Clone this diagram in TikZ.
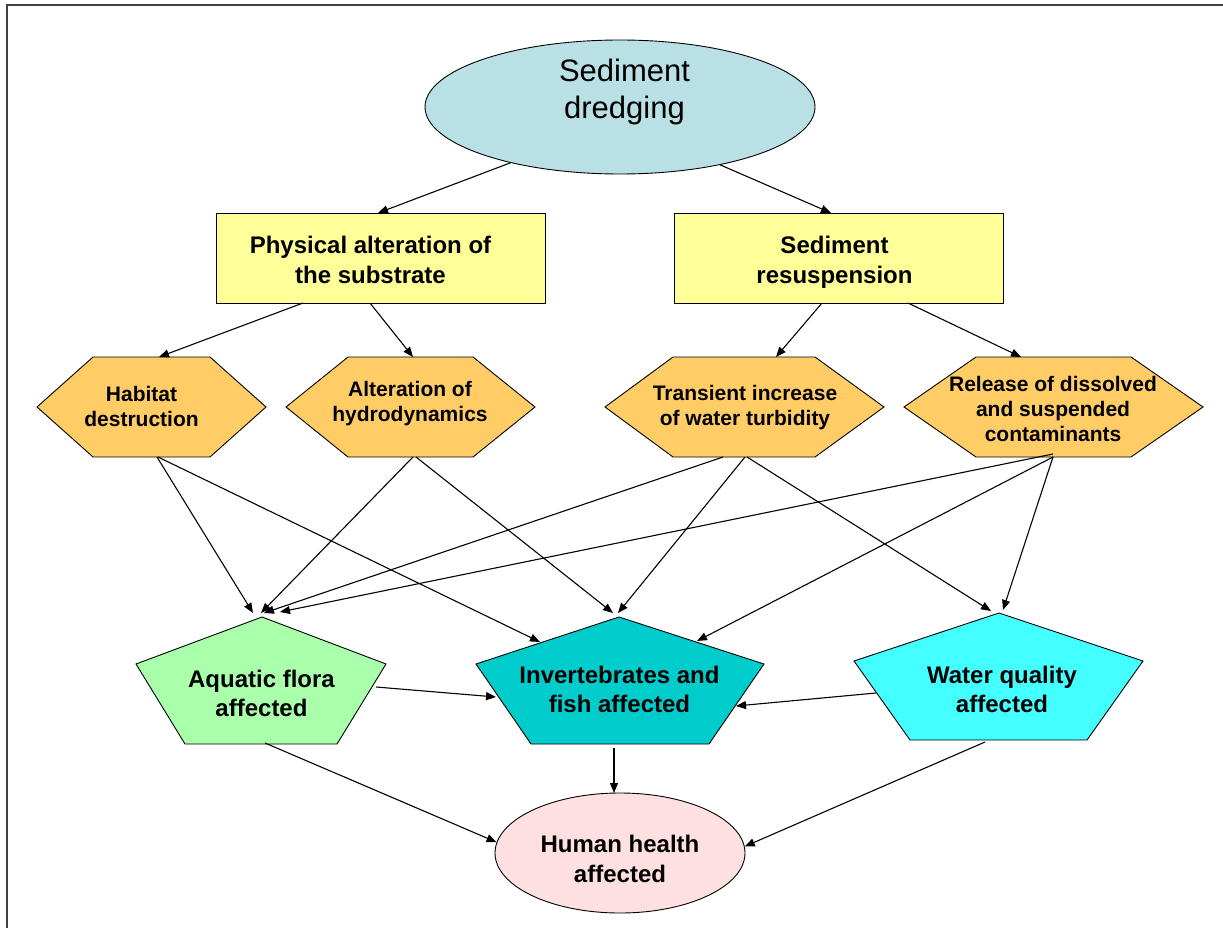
\documentclass[tikz,border=0pt]{standalone}
\usepackage{fontspec}
\setmainfont{Liberation Sans}
\usetikzlibrary{shapes.geometric,arrows.meta}
\definecolor{dredgeblue}{RGB}{185,224,228}
\definecolor{boxyellow}{RGB}{255,255,153}
\definecolor{hexorange}{RGB}{255,204,102}
\definecolor{floragreen}{RGB}{170,255,170}
\definecolor{fishteal}{RGB}{0,204,204}
\definecolor{watercyan}{RGB}{68,255,255}
\definecolor{healthpink}{RGB}{255,224,224}
\begin{document}
\begin{tikzpicture}[x=1pt,y=-1pt,
  shapeline/.style={draw=black,line width=0.9pt},
  conn/.style={draw=black,line width=1.1pt,-{Triangle[length=10pt,width=8pt]}},
  titletext/.style={font=\fontsize{31}{37}\selectfont,align=center,inner sep=0pt},
  boxtext/.style={font=\bfseries\fontsize{24}{30}\selectfont,align=center,inner sep=0pt},
  hextext/.style={font=\bfseries\fontsize{21}{25}\selectfont,align=center,inner sep=0pt},
  penttext/.style={font=\bfseries\fontsize{24}{29}\selectfont,align=center,inner sep=0pt},
  ellnode/.style={ellipse,shapeline,inner sep=0pt},
  boxnode/.style={rectangle,shapeline,fill=boxyellow,minimum width=329pt,minimum height=90pt,inner sep=0pt},
  hexshape/.style={shapeline,fill=hexorange},
]
\useasboundingbox (0,0) rectangle (1223,928);
\fill[white] (0,0) rectangle (1223,928);
\draw[line width=2pt,black!75] (7,928) -- (7,5) -- (1223,5);

% top ellipse
\node[ellnode,fill=dredgeblue,minimum width=390pt,minimum height=134pt] (sd) at (620,107) {};
\node[titletext] (sdt) at (624.5,92) {Sediment\\dredging};

% boxes
\node[boxnode] (pa) at (380.5,258) {};
\node[boxtext] (pat) at (370.5,260) {Physical alteration of\\the substrate};
\node[boxnode] (sr) at (839,258) {};
\node[boxtext] (srt) at (834.5,262.5) {Sediment\\resuspension};

% hexagons
\draw[hexshape] (37,407) -- (93,357) -- (210,357) -- (266,407) -- (210,457) -- (93,457) -- cycle;
\node[hextext] (hab) at (141.5,406) {Habitat\\destruction};
\draw[hexshape] (286,407) -- (348,357) -- (473,357) -- (535,407) -- (473,457) -- (348,457) -- cycle;
\node[hextext] (alt) at (410,403.5) {Alteration of\\hydrodynamics};
\draw[hexshape] (605,407) -- (673,357) -- (815,357) -- (884,407) -- (815,457) -- (673,457) -- cycle;
\node[hextext] (tra) at (745,408) {Transient increase\\of water turbidity};
\draw[hexshape] (904,407) -- (976,357) -- (1131,357) -- (1203,407) -- (1131,457) -- (976,457) -- cycle;
\node[hextext] (rel) at (1053,409) {Release of dissolved\\and suspended\\contaminants};

% pentagons
\draw[shapeline,fill=floragreen] (262,617) -- (386,664) -- (337,744) -- (185,744) -- (136,664) -- cycle;
\node[penttext] (afl) at (261.5,693.5) {Aquatic flora\\affected};
\draw[shapeline,fill=fishteal] (619,617) -- (764,664) -- (709,744) -- (531,744) -- (476,664) -- cycle;
\node[penttext] (inv) at (619.5,689.5) {Invertebrates and\\fish affected};
\draw[shapeline,fill=watercyan] (999,613) -- (1143,661) -- (1087,740) -- (910,740) -- (854,661) -- cycle;
\node[penttext] (wq) at (1002,689.5) {Water quality\\affected};

% bottom ellipse
\node[ellnode,fill=healthpink,minimum width=250pt,minimum height=120pt] (hh) at (620,853) {};
\node[penttext,font=\bfseries\fontsize{24}{30}\selectfont] (hht) at (620,858.5) {Human health\\affected};

% connector end points
\coordinate (pa-n) at (378,213);
\coordinate (sr-n) at (831,213);
\coordinate (pa-s1) at (303,303);
\coordinate (pa-s2) at (370,303);
\coordinate (sr-s1) at (822,303);
\coordinate (sr-s2) at (908,303);
\coordinate (hab-n) at (159,357);
\coordinate (alt-n) at (413,357);
\coordinate (tra-n) at (776,357);
\coordinate (rel-n) at (1021,357);
\coordinate (hab-s1) at (157,457);
\coordinate (hab-s2) at (158,457);
\coordinate (alt-s1) at (413,457);
\coordinate (alt-s2) at (416,457);
\coordinate (tra-s1) at (723,457);
\coordinate (tra-s2) at (745,457);
\coordinate (tra-s3) at (747,457);
\coordinate (rel-s1) at (1053,454);
\coordinate (rel-s2) at (1053,457);
\coordinate (afl-n1) at (253,613);
\coordinate (afl-n2) at (261,613);
\coordinate (afl-n3) at (264,613);
\coordinate (afl-n4) at (280,612);
\coordinate (afl-e) at (376,687);
\coordinate (afl-s) at (265,743);
\coordinate (inv-nw) at (540,642);
\coordinate (inv-n1) at (613,613);
\coordinate (inv-n2) at (618,613);
\coordinate (inv-ne) at (697,641);
\coordinate (inv-w) at (496,697);
\coordinate (inv-e) at (736,706);
\coordinate (inv-s) at (614,748);
\coordinate (hh-n) at (614,793);
\coordinate (wq-n1) at (991,611);
\coordinate (wq-n2) at (1003,610);
\coordinate (wq-w) at (876,693);
\coordinate (wq-s) at (985,742);

% connectors
\draw[conn] (sd.207) -- (pa-n);
\draw[conn] (sd.330) -- (sr-n);
\draw[conn] (pa-s1) -- (hab-n);
\draw[conn] (pa-s2) -- (alt-n);
\draw[conn] (sr-s1) -- (tra-n);
\draw[conn] (sr-s2) -- (rel-n);
\draw[conn] (hab-s1) -- (afl-n1);
\draw[conn] (hab-s2) -- (inv-nw);
\draw[conn] (alt-s1) -- (afl-n2);
\draw[conn] (alt-s2) -- (inv-n1);
\draw[conn] (tra-s1) -- (afl-n3);
\draw[conn] (tra-s2) -- (inv-n2);
\draw[conn] (tra-s3) -- (wq-n1);
\draw[conn] (rel-s1) -- (afl-n4);
\draw[conn] (rel-s2) -- (inv-ne);
\draw[conn] (rel-s2) -- (wq-n2);
\draw[conn] (afl-e) -- (inv-w);
\draw[conn] (wq-w) -- (inv-e);
\draw[conn] (inv-s) -- (hh-n);
\draw[conn] (afl-s) -- (hh.175);
\draw[conn] (wq-s) -- (hh.3);
\end{tikzpicture}
\end{document}
